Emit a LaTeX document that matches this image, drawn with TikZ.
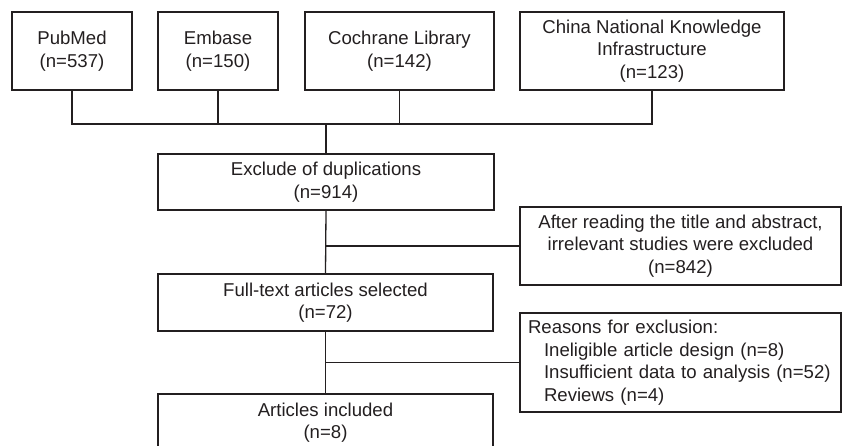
\documentclass[tikz,border=0pt]{standalone}
\usepackage{fontspec}
\setmainfont{Liberation Sans}
\usepackage{tikz}
\usetikzlibrary{calc}
\definecolor{ink}{HTML}{231F20}

\begin{document}
\begin{tikzpicture}[x=1pt, y=-1pt, line width=1.3pt,
  box/.style={draw=ink, text=ink, align=center, inner sep=0pt,
    font=\fontsize{18.6}{22.5}\selectfont},
  link/.style={draw=ink}]
  % Fix the page size and cut what runs over the bottom edge
  \useasboundingbox (0,0) rectangle (842,446);
  \clip (0,0) rectangle (842,446);

  % Draw the database boxes
  \node[box, minimum width=120pt, minimum height=78pt] (PM) at (72,51) {PubMed\\(n=537)};
  \node[box, minimum width=120pt, minimum height=78pt] (EM) at (218,51) {Embase\\(n=150)};
  \node[box, minimum width=189pt, minimum height=78pt] (CL) at (399.5,51) {Cochrane Library\\(n=142)};
  \node[box, minimum width=264pt, minimum height=78pt] (CN) at (652,51) {China National Knowledge\\Infrastructure\\(n=123)};

  % Draw the main column of boxes
  \node[box, minimum width=336pt, minimum height=56pt] (EX) at (326,182) {Exclude of duplications\\(n=914)};
  \node[box, minimum width=335pt, minimum height=57pt] (FT) at (325.5,302.5) {Full-text articles selected\\(n=72)};
  \node[box, minimum width=335pt, minimum height=57pt] (IN) at (325.5,422.5) {Articles included\\(n=8)};

  % Draw the exclusion boxes on the right
  \node[box, minimum width=321pt, minimum height=78pt] (AF) at (680.5,246) {After reading the title and abstract,\\irrelevant studies were excluded\\(n=842)};
  \node[box, align=left, text width=305pt, minimum width=321pt, minimum height=99pt, inner xsep=8pt] (RE) at (680.5,362.5)
    {Reasons for exclusion:\\
     \hspace*{16pt}Ineligible article design (n=8)\\
     \hspace*{16pt}Insufficient data to analysis (n=52)\\
     \hspace*{16pt}Reviews (n=4)};

  % Join the databases into one line
  \coordinate (J) at (326,124);
  \draw[link] (PM.south) |- (J) -| (CN.south);
  \draw[link] (EM.south) -- (EM.south |- J);
  \draw[link] (CL.south) -- (CL.south |- J);

  % Draw the main flow
  \draw[link] (J) -- (EX.north);
  \draw[link] (EX.south) -- (FT.north);
  \draw[link] (FT.south) -- (IN.north);

  % Draw the side branches
  \draw[link] (AF.west) -- (AF.west -| EX.south);
  \draw[link] (RE.west) -- (RE.west -| FT.south);
\end{tikzpicture}
\end{document}
